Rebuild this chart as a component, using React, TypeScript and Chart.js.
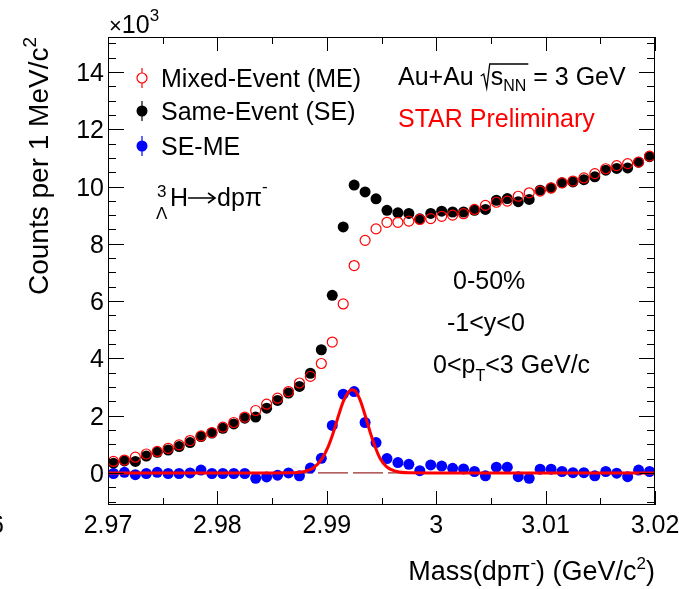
import React, { useEffect, useRef } from 'react';
import { Chart, registerables } from 'chart.js';

Chart.register(...registerables);

// ---- data (counts in units of 10^3) ----
const massBins = [
  2.9705, 2.9715, 2.9725, 2.9735, 2.9745, 2.9755, 2.9765, 2.9775, 2.9785, 2.9795,
  2.9805, 2.9815, 2.9825, 2.9835, 2.9845, 2.9855, 2.9865, 2.9875, 2.9885, 2.9895,
  2.9905, 2.9915, 2.9925, 2.9935, 2.9945, 2.9955, 2.9965, 2.9975, 2.9985, 2.9995,
  3.0005, 3.0015, 3.0025, 3.0035, 3.0045, 3.0055, 3.0065, 3.0075, 3.0085, 3.0095,
  3.0105, 3.0115, 3.0125, 3.0135, 3.0145, 3.0155, 3.0165, 3.0175, 3.0185, 3.0195,
];

const sameEvent = [
  0.34, 0.42, 0.40, 0.59, 0.72, 0.80, 0.92, 1.06, 1.27, 1.39,
  1.56, 1.71, 1.91, 1.95, 2.26, 2.53, 2.79, 3.02, 3.48, 4.30,
  6.20, 8.59, 10.05, 9.81, 9.57, 9.17, 9.08, 9.06, 8.87, 9.06,
  9.14, 9.11, 9.11, 9.17, 9.20, 9.52, 9.58, 9.47, 9.55, 9.87,
  9.95, 10.13, 10.16, 10.24, 10.34, 10.57, 10.63, 10.65, 10.85, 11.04,
];

const mixedEvent = [
  0.40, 0.45, 0.55, 0.66, 0.75, 0.86, 0.98, 1.13, 1.29, 1.41,
  1.60, 1.76, 1.95, 2.18, 2.40, 2.61, 2.84, 3.14, 3.37, 3.82,
  4.57, 5.90, 7.24, 8.12, 8.52, 8.75, 8.75, 8.79, 8.85, 8.88,
  8.96, 9.00, 9.05, 9.20, 9.34, 9.45, 9.49, 9.66, 9.78, 9.84,
  9.95, 10.13, 10.19, 10.30, 10.45, 10.62, 10.73, 10.80, 10.85, 11.06,
];

const seMinusMe = [
  -0.02, 0.02, -0.06, -0.02, 0.02, -0.02, -0.02, 0.0, 0.10, -0.02,
  -0.02, -0.02, -0.02, -0.19, -0.14, -0.08, 0.0, -0.10, 0.17, 0.51,
  1.66, 2.75, 2.84, 1.76, 1.06, 0.50, 0.36, 0.30, 0.08, 0.28,
  0.24, 0.16, 0.14, 0.05, -0.10, 0.20, 0.20, -0.13, -0.19, 0.13,
  0.13, 0.05, 0.01, 0.01, -0.10, 0.05, -0.01, -0.13, 0.10, 0.05,
];

// fit curve
const fitMass = [
  2.9700, 2.9850, 2.98664, 2.98785, 2.98877, 2.98953, 2.99014, 2.99059, 2.99105,
  2.99151, 2.99197, 2.99228, 2.99258, 2.99303, 2.99349, 2.99395, 2.99441, 2.99486,
  2.99548, 2.99639, 2.99760, 3.0000, 3.0200,
];
const fitCounts = [
  0, 0, 0.003, 0.04, 0.17, 0.48, 0.93, 1.40, 1.98,
  2.50, 2.82, 2.90, 2.87, 2.56, 2.03, 1.44, 0.92, 0.51,
  0.21, 0.05, 0.005, 0, 0,
];

const zeroLineMass = [2.97, 3.02];
const zeroLineCounts = [0, 0];

const xTickValues = [2.97, 2.98, 2.99, 3.0, 3.01, 3.02];
const xTickLabels = ['2.97', '2.98', '2.99', '3', '3.01', '3.02'];
const yTickValues = [0, 2, 4, 6, 8, 10, 12, 14];
const yTickLabels = ['0', '2', '4', '6', '8', '10', '12', '14'];

const legendLabels = ['Mixed-Event (ME)', 'Same-Event (SE)', 'SE-ME'];

const FONT = '"Liberation Sans", Arial, Helvetica, sans-serif';
const TXT = 25;

type Part = { t: string; s?: number; dy?: number };

function richWidth(ctx: CanvasRenderingContext2D, parts: Part[], base: number) {
  let w = 0;
  for (const p of parts) {
    ctx.font = `${p.s ?? base}px ${FONT}`;
    w += ctx.measureText(p.t).width;
  }
  return w;
}

function drawRich(
  ctx: CanvasRenderingContext2D,
  parts: Part[],
  x: number,
  y: number,
  base: number,
  align: 'left' | 'right' = 'left',
  color = '#000'
) {
  ctx.textAlign = 'left';
  ctx.textBaseline = 'alphabetic';
  ctx.fillStyle = color;
  let cx = align === 'right' ? x - richWidth(ctx, parts, base) : x;
  for (const p of parts) {
    ctx.font = `${p.s ?? base}px ${FONT}`;
    ctx.fillText(p.t, cx, y + (p.dy ?? 0));
    cx += ctx.measureText(p.t).width;
  }
  return cx;
}

const xy = (xs: number[], ys: number[]) => xs.map((x, i) => ({ x, y: ys[i] }));

const rootPlugin = {
  id: 'rootDecor',
  afterDatasetsDraw(chart: any) {
    const { ctx, chartArea: a, scales } = chart;
    const xs = scales.x;
    const ys = scales.y;
    ctx.save();
    ctx.strokeStyle = '#000';
    ctx.lineWidth = 1;
    // frame
    ctx.strokeRect(a.left + 0.5, a.top + 0.5, a.right - a.left - 1, a.bottom - a.top - 1);

    // x ticks (major 0.01, minor 0.005), drawn inward, top and bottom
    ctx.beginPath();
    for (let i = 0; i <= 10; i++) {
      const v = xs.min + i * 0.005;
      const px = Math.round(xs.getPixelForValue(v)) + 0.5;
      const len = i % 2 === 0 ? 14 : 7;
      ctx.moveTo(px, a.bottom);
      ctx.lineTo(px, a.bottom - len);
      ctx.moveTo(px, a.top);
      ctx.lineTo(px, a.top + len);
    }
    // y ticks (major 2, minor 0.5)
    for (let v = -1; v <= ys.max; v += 0.5) {
      const py = Math.round(ys.getPixelForValue(v)) + 0.5;
      const major = Math.abs(v % 2) < 1e-6;
      const len = major ? 16 : 8;
      ctx.moveTo(a.left, py);
      ctx.lineTo(a.left + len, py);
      ctx.moveTo(a.right, py);
      ctx.lineTo(a.right - len, py);
    }
    ctx.stroke();

    // tick labels
    ctx.fillStyle = '#000';
    ctx.font = `${TXT}px ${FONT}`;
    ctx.textBaseline = 'alphabetic';
    ctx.textAlign = 'center';
    xTickValues.forEach((v, i) => {
      ctx.fillText(xTickLabels[i], xs.getPixelForValue(v), 533);
    });
    ctx.textAlign = 'right';
    ctx.fillText('6', 4, 533);
    yTickValues.forEach((v, i) => {
      ctx.fillText(yTickLabels[i], 104, ys.getPixelForValue(v) + 9);
    });

    // exponent
    ctx.textAlign = 'left';
    drawRich(ctx, [{ t: '\u00d7', s: 22 }, { t: '10' }, { t: '3', s: 17, dy: -12 }], 109, 33, TXT);

    // axis titles
    drawRich(
      ctx,
      [{ t: 'Mass(dp\u03c0' }, { t: '-', s: 17, dy: -12 }, { t: ') (GeV/c' }, { t: '2', s: 17, dy: -11 }, { t: ')' }],
      655,
      580,
      27,
      'right'
    );
    ctx.save();
    ctx.translate(48, 37);
    ctx.rotate(-Math.PI / 2);
    drawRich(ctx, [{ t: 'Counts per 1 MeV/c' }, { t: '2', s: 19, dy: -12 }], 0, 0, 28, 'right');
    ctx.restore();

    // legend
    const lx = 142;
    const rows = [78, 111, 146];
    const lcol = ['#ff0000', '#000000', '#0000ff'];
    rows.forEach((ry, i) => {
      ctx.strokeStyle = lcol[i];
      ctx.fillStyle = lcol[i];
      ctx.lineWidth = 1.2;
      ctx.beginPath();
      if (i === 0) {
        ctx.moveTo(lx, ry - 10);
        ctx.lineTo(lx, ry - 5);
        ctx.moveTo(lx, ry + 5);
        ctx.lineTo(lx, ry + 10);
        ctx.stroke();
        ctx.beginPath();
        ctx.arc(lx, ry, 5, 0, Math.PI * 2);
        ctx.stroke();
      } else {
        ctx.moveTo(lx, ry - 10);
        ctx.lineTo(lx, ry + 10);
        ctx.stroke();
        ctx.beginPath();
        ctx.arc(lx, ry, 5.5, 0, Math.PI * 2);
        ctx.fill();
      }
      drawRich(ctx, [{ t: legendLabels[i] }], 161, ry + 9, TXT);
    });

    // Au+Au sqrt(sNN)
    ctx.strokeStyle = '#000';
    let cx = drawRich(ctx, [{ t: 'Au+Au ' }], 398, 85, TXT);
    const rx = cx;
    const sEnd = rx + 10 + richWidth(ctx, [{ t: 's' }, { t: 'NN', s: 16 }], TXT) + 2;
    ctx.lineWidth = 1.3;
    ctx.beginPath();
    ctx.moveTo(rx, 76);
    ctx.lineTo(rx + 3, 74);
    ctx.lineTo(rx + 6, 88);
    ctx.lineTo(rx + 9, 64);
    ctx.lineTo(sEnd, 64);
    ctx.stroke();
    cx = drawRich(ctx, [{ t: 's' }, { t: 'NN', s: 16, dy: 6 }, { t: ' = 3 GeV' }], rx + 10, 85, TXT);
    drawRich(ctx, [{ t: 'STAR Preliminary' }], 398, 127, TXT, 'left', '#ff0000');

    // selection texts
    drawRich(ctx, [{ t: '0-50%' }], 453, 289, TXT);
    drawRich(ctx, [{ t: '-1<y<0' }], 447, 331, TXT);
    drawRich(ctx, [{ t: '0<p' }, { t: 'T', s: 16, dy: 8 }, { t: '<3 GeV/c' }], 433, 373, TXT);

    // hypertriton decay label
    drawRich(ctx, [{ t: '3', s: 17 }], 157, 197, TXT);
    drawRich(ctx, [{ t: '\u039b', s: 17 }], 156, 219, TXT);
    cx = drawRich(ctx, [{ t: 'H' }], 170, 206, TXT);
    ctx.strokeStyle = '#000';
    ctx.lineWidth = 1.6;
    ctx.beginPath();
    ctx.moveTo(cx, 198);
    ctx.lineTo(cx + 27, 198);
    ctx.moveTo(cx + 20, 193);
    ctx.lineTo(cx + 27, 198);
    ctx.lineTo(cx + 20, 203);
    ctx.stroke();
    drawRich(ctx, [{ t: 'dp\u03c0' }, { t: '-', s: 17, dy: -14 }], cx + 29, 206, TXT);

    ctx.restore();
  },
};

export default function App() {
  const ref = useRef<HTMLCanvasElement>(null);

  useEffect(() => {
    const canvas = ref.current;
    if (!canvas) return;
    const chart = new Chart(canvas, {
      type: 'scatter',
      data: {
        datasets: [
          {
            label: 'fit',
            data: xy(fitMass, fitCounts),
            showLine: true,
            borderColor: '#ff0000',
            borderWidth: 3,
            pointRadius: 0,
            cubicInterpolationMode: 'monotone',
            order: 0,
          } as any,
          {
            label: 'SE-ME',
            data: xy(massBins, seMinusMe),
            pointStyle: 'circle',
            pointRadius: 5.5,
            backgroundColor: '#0000ff',
            borderColor: '#0000ff',
            borderWidth: 0,
            order: 1,
          },
          {
            label: 'zero',
            data: xy(zeroLineMass, zeroLineCounts),
            showLine: true,
            borderColor: '#9b2d2d',
            borderWidth: 1.2,
            borderDash: [30, 5],
            pointRadius: 0,
            order: 2,
          } as any,
          {
            label: 'ME',
            data: xy(massBins, mixedEvent),
            pointStyle: 'circle',
            pointRadius: 5,
            backgroundColor: 'rgba(0,0,0,0)',
            borderColor: '#ff0000',
            borderWidth: 1.2,
            order: 3,
          },
          {
            label: 'SE',
            data: xy(massBins, sameEvent),
            pointStyle: 'circle',
            pointRadius: 5.5,
            backgroundColor: '#000000',
            borderColor: '#000000',
            borderWidth: 0,
            order: 4,
          },
        ],
      },
      options: {
        animation: false,
        responsive: false,
        maintainAspectRatio: false,
        devicePixelRatio: 1,
        events: [],
        layout: { padding: { left: 108, right: 24, top: 37, bottom: 84 } },
        plugins: { legend: { display: false }, tooltip: { enabled: false } },
        scales: {
          x: { type: 'linear', min: 2.97, max: 3.02, display: false },
          y: { type: 'linear', min: -1.12, max: 15.22, display: false },
        },
      },
      plugins: [rootPlugin],
    });
    return () => chart.destroy();
  }, []);

  return (
    <div style={{ position: 'fixed', left: 0, top: 0, width: 679, height: 589, background: '#fff' }}>
      <canvas ref={ref} width={679} height={589} style={{ width: 679, height: 589, display: 'block' }} />
    </div>
  );
}
